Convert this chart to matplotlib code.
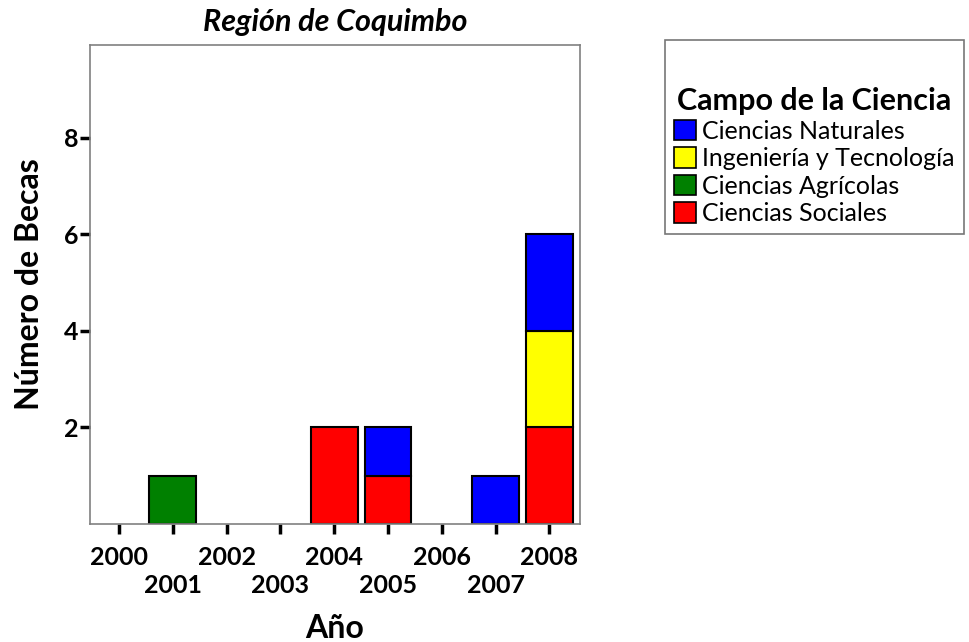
import numpy as np
import matplotlib.pyplot as plt
from matplotlib.patches import Patch

plt.rcParams['font.family'] = ['Lato', 'DejaVu Sans']

years = [2000, 2001, 2002, 2003, 2004, 2005, 2006, 2007, 2008]
# stacked bottom to top
sociales = [0, 0, 0, 0, 2, 1, 0, 0, 2]
agricolas = [0, 1, 0, 0, 0, 0, 0, 0, 0]
ingenieria = [0, 0, 0, 0, 0, 0, 0, 0, 2]
naturales = [0, 0, 0, 0, 0, 1, 0, 1, 2]

series = [
    ("Ciencias Sociales", sociales, "#ff0000"),
    ("Ciencias Agrícolas", agricolas, "#008000"),
    ("Ingeniería y Tecnología", ingenieria, "#ffff00"),
    ("Ciencias Naturales", naturales, "#0000ff"),
]

fig = plt.figure(figsize=(9.69, 6.42), dpi=100)
ax = fig.add_axes([90/969, 1-524/642, 490/969, 479/642])

x = np.arange(len(years))
bottom = np.zeros(len(years))
for name, vals, col in series:
    vals = np.array(vals, dtype=float)
    mask = vals > 0
    ax.bar(x[mask], vals[mask], bottom=bottom[mask], width=0.87,
           color=col, edgecolor="black", linewidth=1.5)
    bottom += vals

ax.set_xlim(-0.54, 8.57)
ax.set_ylim(0, 9.92)
ax.set_yticks([2, 4, 6, 8])
ax.set_yticklabels(["2", "4", "6", "8"], fontsize=18, fontweight="bold")
ax.set_xticks(x)
ax.set_xticklabels([str(y) if i % 2 == 0 else "\n" + str(y) for i, y in enumerate(years)],
                   fontsize=18, fontweight="bold", linespacing=1.25)
ax.tick_params(axis="x", length=7, width=2.5, color="black", pad=9)
ax.tick_params(axis="y", length=7, width=2.5, color="black", pad=1)
for s in ax.spines.values():
    s.set_color("#808080")
    s.set_linewidth(1.2)

ax.set_xlabel("Año", fontsize=23, fontweight="bold", labelpad=12)
ax.set_ylabel("Número de Becas", fontsize=23, fontweight="bold", labelpad=15)
ax.set_title("Región de Coquimbo", fontsize=22, fontweight="bold", style="italic", pad=10)

handles = [Patch(facecolor=c, edgecolor="black", linewidth=1.2, label=n)
           for n, _, c in reversed(series)]
leg = fig.legend(handles=handles, loc="upper left", bbox_to_anchor=(665/969, 1-40/642),
                 title="\nCampo de la Ciencia", fontsize=18, frameon=True, fancybox=False,
                 handlelength=0.9, handleheight=0.9, handletextpad=0.25, labelspacing=0.18,
                 borderpad=0.35, borderaxespad=0, alignment="center")
leg.get_title().set_fontsize(22)
leg.get_title().set_fontweight("bold")
leg.get_title().set_linespacing(1.45)
leg.get_frame().set_edgecolor("#555555")
leg.get_frame().set_linewidth(1.2)

fig.savefig("out.png", dpi=100)
